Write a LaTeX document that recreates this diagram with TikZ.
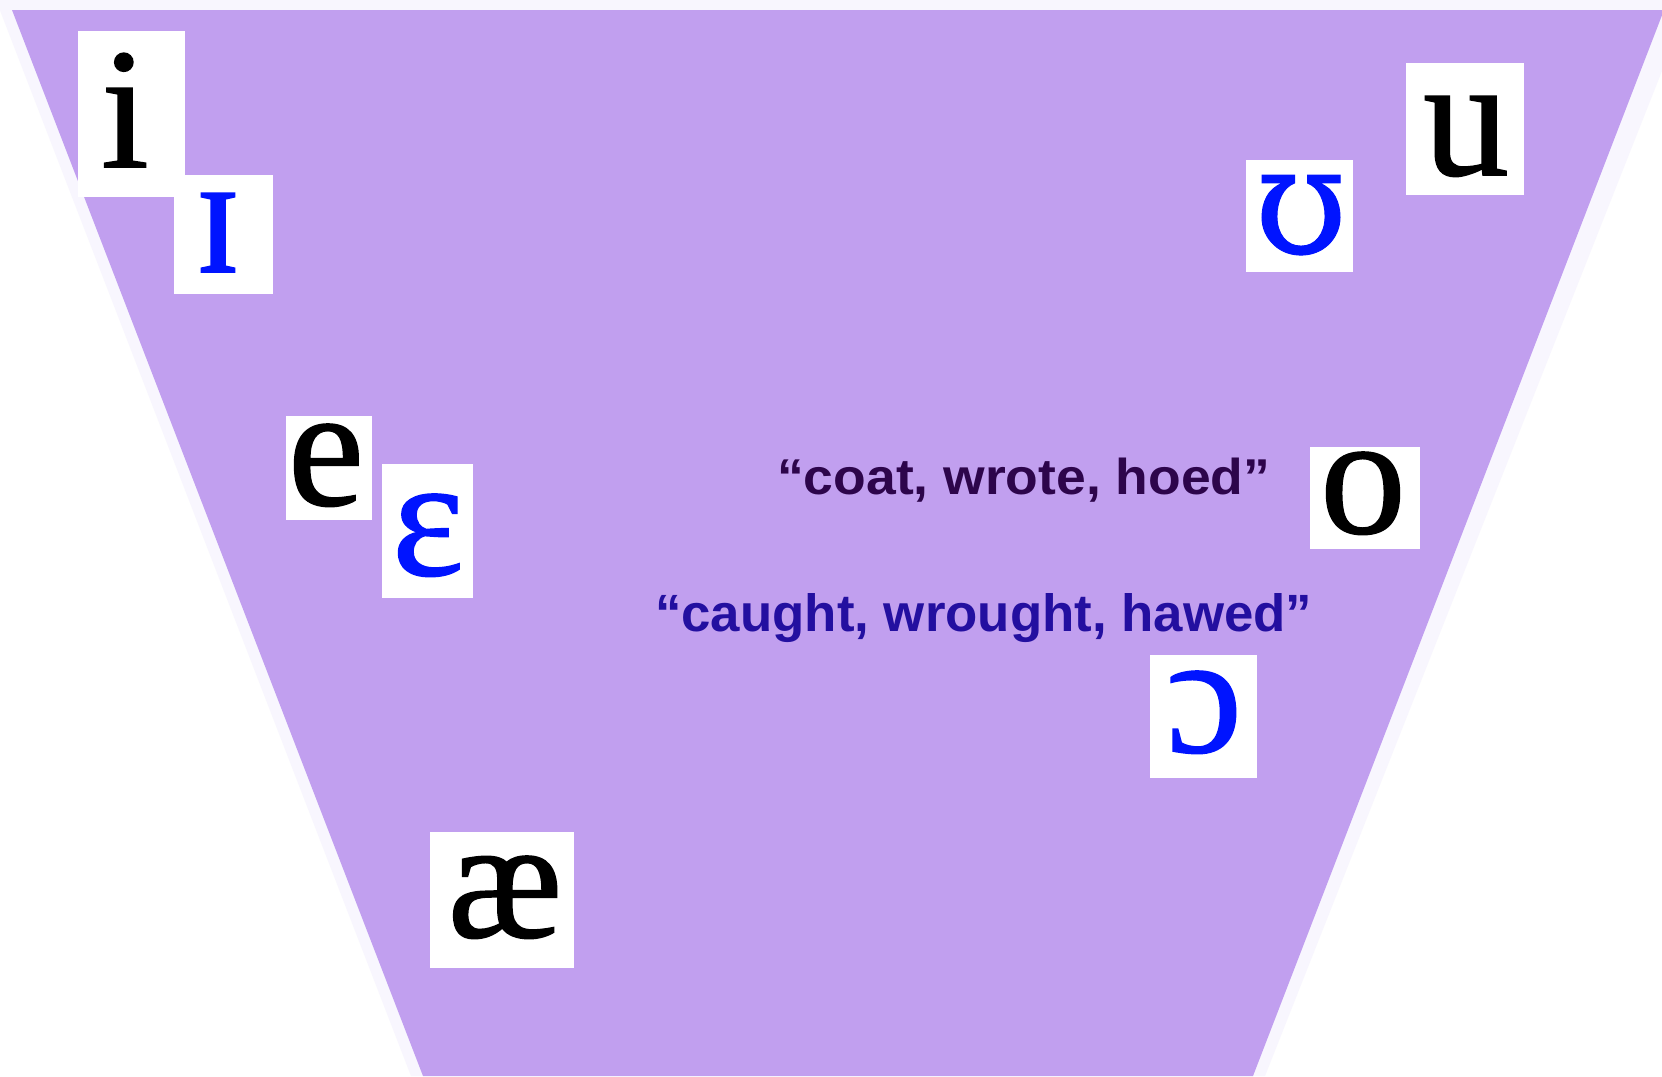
\documentclass[tikz,border=0pt]{standalone}
\usepackage{fontspec}
\setmainfont{Liberation Serif}
\newfontfamily\ipaf[FakeBold=0.9]{Liberation Serif}
\newfontfamily\ipadv[FakeBold=0.6]{DejaVu Serif}
\newfontfamily\lsans{Liberation Sans}
\usepackage{graphicx}
\definecolor{fillpurple}{RGB}{193,159,239}
\definecolor{edgelight}{RGB}{248,246,254}
\definecolor{textone}{RGB}{45,5,75}
\definecolor{texttwo}{RGB}{35,15,160}
\definecolor{ipablue}{RGB}{0,20,255}
\begin{document}
\begin{tikzpicture}[x=1pt,y=-1pt,
  lbox/.style={fill=white, draw=none, inner sep=0pt, anchor=north west},
  ipa/.style={inner sep=0pt, anchor=base, font=\ipaf\fontsize{172}{172}\selectfont, text=black},
  ipab/.style={ipa, text=ipablue},
  quote/.style={inner sep=0pt, anchor=base west}]
\useasboundingbox (0,0) rectangle (1662,1076);
\fill[white] (0,0) rectangle (1662,1076);
% light outline band
\fill[edgelight] (-4,0) -- (1690,0) -- (1265,1076) -- (411,1076) -- cycle;
% purple trapezoid
\fill[fillpurple] (12,10) -- (1664,10) -- (1253,1076) -- (423,1076) -- cycle;

% white letter boxes
\node[lbox, minimum width=107pt, minimum height=166pt] (ibox) at (78,31) {};
\node[lbox, minimum width=99pt, minimum height=119pt] (Ibox) at (174,175) {};
\node[lbox, minimum width=118pt, minimum height=132pt] (ubox) at (1406,63) {};
\node[lbox, minimum width=107pt, minimum height=112pt] (Ubox) at (1246,160) {};
\node[lbox, minimum width=86pt, minimum height=104pt] (ebox) at (286,416) {};
\node[lbox, minimum width=91pt, minimum height=134pt] (Ebox) at (382,464) {};
\node[lbox, minimum width=110pt, minimum height=102pt] (obox) at (1310,447) {};
\node[lbox, minimum width=107pt, minimum height=123pt] (Obox) at (1150,655) {};
\node[lbox, minimum width=144pt, minimum height=136pt] (aebox) at (430,832) {};

% letters
\node[ipa]  (i)  at (125,167) {i};
\node[ipab] (I)  at (218,272) {ɪ};
\node[ipa]  (u)  at (1466,175) {u};
\node[ipab, font=\ipadv\fontsize{150}{150}\selectfont] (U)  at (1301,253) {ʊ};
\node[ipa]  (e)  at (326,505) {e};
\node[ipab] (E)  at (428,575) {ɛ};
\node[ipa]  (o)  at (1363,533) {o};
\node[ipab] (O)  at (1204,752) {ɔ};
\node[ipa]  (ae) at (505,937) {æ};

% labels
\node[quote, text=textone] (t1) at (777,494.5)
  {\resizebox{493pt}{36.5pt}{\lsans\bfseries “coat, wrote, hoed”}};
\node[quote, text=texttwo] (t2) at (655,631)
  {\resizebox{657pt}{38pt}{\lsans\bfseries “caught, wrought, hawed”}};
\end{tikzpicture}
\end{document}
